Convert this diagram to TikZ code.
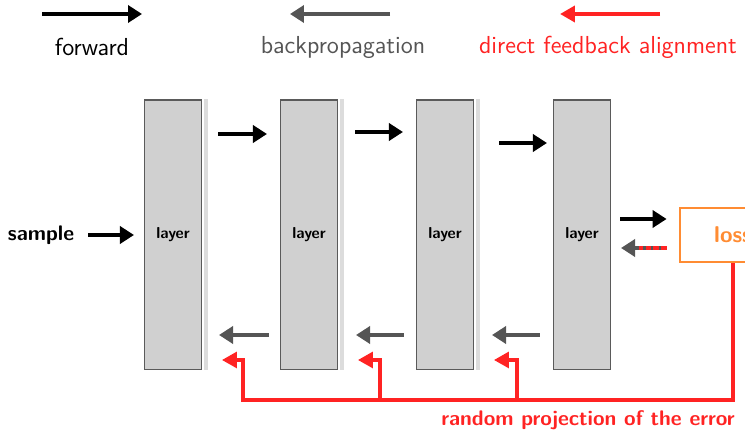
\documentclass[tikz,border=0pt]{standalone}
\usetikzlibrary{arrows.meta}
\renewcommand{\familydefault}{\sfdefault}

\definecolor{fbred}{HTML}{FF2323}
\definecolor{bpgrey}{HTML}{555555}
\definecolor{lossorange}{HTML}{FF8C33}
\definecolor{layerfill}{HTML}{D0D0D0}
\definecolor{layerdraw}{HTML}{5A5A5A}
\definecolor{layershadow}{HTML}{DCDCDC}

\begin{document}
\begin{tikzpicture}[
    x=0.02cm, y=-0.02cm,
    text centered,
	layerbox/.style={
	  rectangle,
	  minimum width=1.14cm,
	  minimum height=5.4cm,
	  inner sep=0pt,
	  line width=0.6pt,
	  draw=layerdraw,
	  fill=layerfill,
	  font=\fontsize{9}{11}\selectfont\bfseries
	},
	lossbox/.style={
	  rectangle,
	  minimum width=2.12cm,
	  minimum height=1.08cm,
	  line width=1.6pt,
	  draw=lossorange,
	  text=lossorange,
	  font=\fontsize{13}{15}\selectfont\bfseries
	},
	legend/.style={font=\fontsize{14}{16}\selectfont},
	fwd/.style={draw, line width=2.3pt, -{Triangle[length=0.28cm, width=0.34cm]}},
	bwd/.style={draw=bpgrey, line width=2.3pt, -{Triangle[length=0.28cm, width=0.34cm]}},
	dfa/.style={draw=fbred, line width=1.8pt, -{Triangle[length=0.3cm, width=0.32cm]}}
	]
	\useasboundingbox (0,0) rectangle (745,435);

	% legend
	\node at (92, 47) [legend] (lfwd) {forward};
	\node at (343, 47) [legend, text=bpgrey] (lbwd) {backpropagation};
	\node at (608, 47) [legend, text=fbred] (ldfa) {direct feedback alignment};
	\path [fwd] ([shift={(-50,-33)}]lfwd.center) -- ([shift={(50,-33)}]lfwd.center);
	\path [bwd] ([shift={(47,-33)}]lbwd.center) -- ([shift={(-53,-33)}]lbwd.center);
	\path [dfa, line width=2.3pt] ([shift={(52,-33)}]ldfa.center) -- ([shift={(-48,-33)}]ldfa.center);

	% layers
	\foreach \i/\x in {1/173, 2/309, 3/445, 4/582}
	  \node at (\x, 235) [layerbox] (l\i) {layer};
	\foreach \i in {1,2,3}
	  \fill [layershadow] ([xshift=1.2pt]l\i.north east) rectangle ([xshift=3.6pt]l\i.south east);

	\node at (41, 235) [font=\fontsize{12}{14}\selectfont\bfseries] (sample) {sample};
	\node at (733, 235) [lossbox] (loss) {loss};

	% forward pass
	\path [fwd, shorten <=0.16cm, shorten >=0.2cm] (sample.east) -- (l1.west);
	\path [fwd, shorten <=0.32cm, shorten >=0.26cm] (l1.east |- 0,134) -- (l2.west |- 0,134);
	\path [fwd, shorten <=0.34cm, shorten >=0.26cm] (l2.east |- 0,132) -- (l3.west |- 0,132);
	\path [fwd, shorten <=0.5cm, shorten >=0.12cm] (l3.east |- 0,143) -- (l4.west |- 0,143);
	\path [fwd, shorten <=0.18cm, shorten >=0.24cm] (l4.east |- 0,219) -- (loss.west |- 0,219);

	% backpropagation
	\path [bwd, shorten <=0.22cm, shorten >=0.34cm] (l2.west |- 0,335) -- (l1.east |- 0,335);
	\path [bwd, shorten <=0.24cm, shorten >=0.36cm] (l3.west |- 0,335) -- (l2.east |- 0,335);
	\path [bwd, shorten <=0.26cm, shorten >=0.36cm] (l4.west |- 0,335) -- (l3.east |- 0,335);
	\path [bwd, shorten <=0.24cm, shorten >=0.2cm] (loss.west |- 0,248) -- (l4.east |- 0,248);
	\draw [fbred, line width=2.3pt, dash pattern=on 3pt off 1.5pt, shorten <=0.24cm]
	  (loss.west |- 0,248) -- ([xshift=0.56cm]l4.east |- 0,248);

	% random projection of the error
	\coordinate (e1) at (222, 360);
	\coordinate (e2) at (358, 360);
	\coordinate (e3) at (494, 360);
	\path [dfa] (loss.south) |- (243, 400) |- (e1);
	\path [dfa] (380, 400) |- (e2);
	\path [dfa] (517, 400) |- (e3);
	\node at (588, 420) [text=fbred, font=\fontsize{12}{14}\selectfont\bfseries] (proj) {random projection of the error};
\end{tikzpicture}
\end{document}
